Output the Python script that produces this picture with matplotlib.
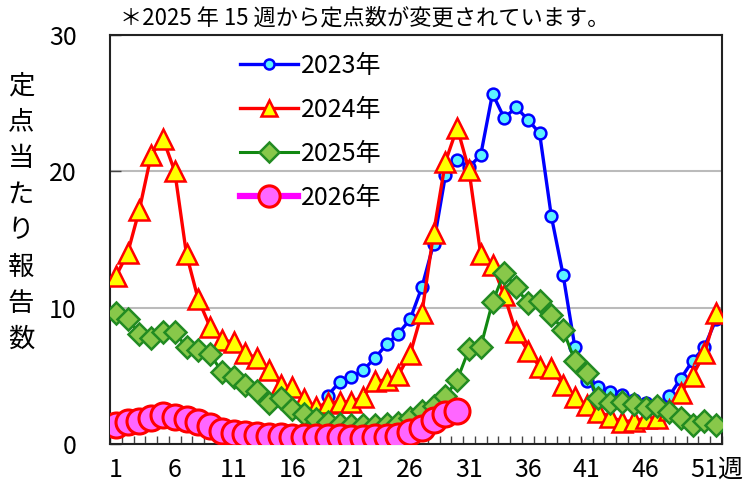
import numpy as np
import matplotlib
matplotlib.use("Agg")
import matplotlib.pyplot as plt

plt.rcParams['font.family'] = ['Noto Sans CJK JP', 'DejaVu Sans']

weeks = list(range(1, 53))
nan = np.nan

y2023 = [nan]*18 + [3.55, 4.55, 4.9, 5.4, 6.3, 7.3, 8.1, 9.15, 11.5, 14.7,
                    19.7, 20.8, 20.3, 21.2, 25.7, 23.9, 24.7, 23.8, 22.8, 16.7,
                    12.4, 7.1, 4.6, 4.2, 3.85, 3.6, 3.2, 3.0, 2.9, 3.5,
                    4.8, 6.1, 7.1, 9.15]
y2024 = [12.3, 14.0, 17.2, 21.2, 22.4, 20.0, 13.9, 10.6, 8.6, 7.6,
         7.5, 6.65, 6.3, 5.4, 4.3, 4.15, 3.3, 2.7, 3.0, 3.1,
         3.1, 3.45, 4.6, 4.7, 5.06, 6.6, 9.6, 15.5, 20.7, 23.2,
         20.1, 13.9, 13.1, 10.9, 8.2, 6.85, 5.67, 5.55, 4.33, 3.47,
         2.86, 2.37, 2.0, 1.65, 1.7, 1.88, 1.88, 2.5, 3.77, 5.0,
         6.65, 9.58]
y2025 = [9.6, 9.2, 8.1, 7.8, 8.2, 8.2, 7.1, 6.9, 6.6, 5.3,
         4.9, 4.3, 3.9, 3.0, 3.4, 2.55, 2.2, 1.8, 1.65, 1.47,
         1.4, 1.4, 1.4, 1.45, 1.55, 1.9, 2.4, 2.8, 3.5, 4.7,
         6.95, 7.14, 10.4, 12.57, 11.5, 10.35, 10.5, 9.46, 8.36, 6.1,
         5.23, 3.35, 3.03, 3.1, 2.93, 2.62, 2.79, 2.37, 1.88, 1.39,
         1.71, 1.39]
y2026 = [1.4, 1.65, 1.7, 1.88, 2.15, 2.0, 1.8, 1.62, 1.32, 0.95,
         0.8, 0.72, 0.66, 0.62, 0.59, 0.55, 0.52, 0.5, 0.5, 0.48,
         0.47, 0.47, 0.48, 0.52, 0.6, 0.85, 1.15, 1.75, 2.2, 2.4]

labels = ['2023年', '2024年', '2025年', '2026年']
xtick_weeks = [1, 6, 11, 16, 21, 26, 31, 36, 41, 46, 51]
yticks = [0, 10, 20, 30]
ylabel_chars = ['定', '点', '当', 'た', 'り', '報', '告', '数']
note = '＊2025 年 15 週から定点数が変更されています。'

fig = plt.figure(figsize=(7.5, 4.9), dpi=100)
ax = fig.add_axes([110/750, 46/490, 612/750, 409/490])

ax.plot(weeks, y2023, color='#0000FF', lw=2.4, marker='o', ms=8.5,
        mfc='#5CF2FF', mec='#0000FF', mew=1.8, label=labels[0], zorder=3)
ax.plot(weeks, y2024, color='#FF0000', lw=2.4, marker='^', ms=14,
        mfc='#FFFF00', mec='#FF0000', mew=1.8, label=labels[1], zorder=4)
ax.plot(weeks, y2025, color='#118811', lw=2.2, marker='D', ms=11.5,
        mfc='#88C84A', mec='#228B22', mew=1.8, label=labels[2], zorder=5)
ax.plot(weeks[:len(y2026)], y2026, color='#FF00FF', lw=4.5, marker='o', ms=18,
        mfc='#FF66FF', mec='#FF0000', mew=2.2, label=labels[3], zorder=6)

ax.set_xlim(weeks[0] - 0.5, weeks[-1] + 0.5)
ax.set_ylim(yticks[0], yticks[-1])
ax.set_yticks(yticks)
ax.set_xticks(xtick_weeks)
ax.set_xticklabels([str(w) for w in xtick_weeks])
ax.set_xticks(np.arange(weeks[0] - 0.5, weeks[-1] + 0.6, 1), minor=True)

ax.grid(axis='y', color='#BBBBBB', lw=1.5, zorder=0)
ax.set_axisbelow(True)

ax.tick_params(axis='x', which='major', length=0, pad=9, labelsize=18)
ax.tick_params(axis='x', which='minor', direction='in', length=6, width=1, color='#444444')
ax.tick_params(axis='y', which='major', direction='in', length=8, width=1,
               color='#444444', pad=24, labelsize=18)
for s in ax.spines.values():
    s.set_linewidth(1.5)
    s.set_color('#222222')

ax.annotate('週', xy=(xtick_weeks[-1], 0), xycoords=('data', 'axes fraction'),
            xytext=(9, -9), textcoords='offset points', ha='left', va='top',
            fontsize=18)

leg = ax.legend(loc='upper left', bbox_to_anchor=(0.176, 1.012), frameon=False,
                fontsize=18, handlelength=2.3, handletextpad=0.15, labelspacing=0.72,
                markerscale=0.85)

fig.text(120/750, 1 - 18/490, note, fontsize=16, va='center', ha='left')

for i, ch in enumerate(ylabel_chars):
    fig.text(21/750, 1 - (86 + i*36.2)/490, ch, fontsize=19, ha='center', va='center')

fig.savefig('out.png', dpi=100)
